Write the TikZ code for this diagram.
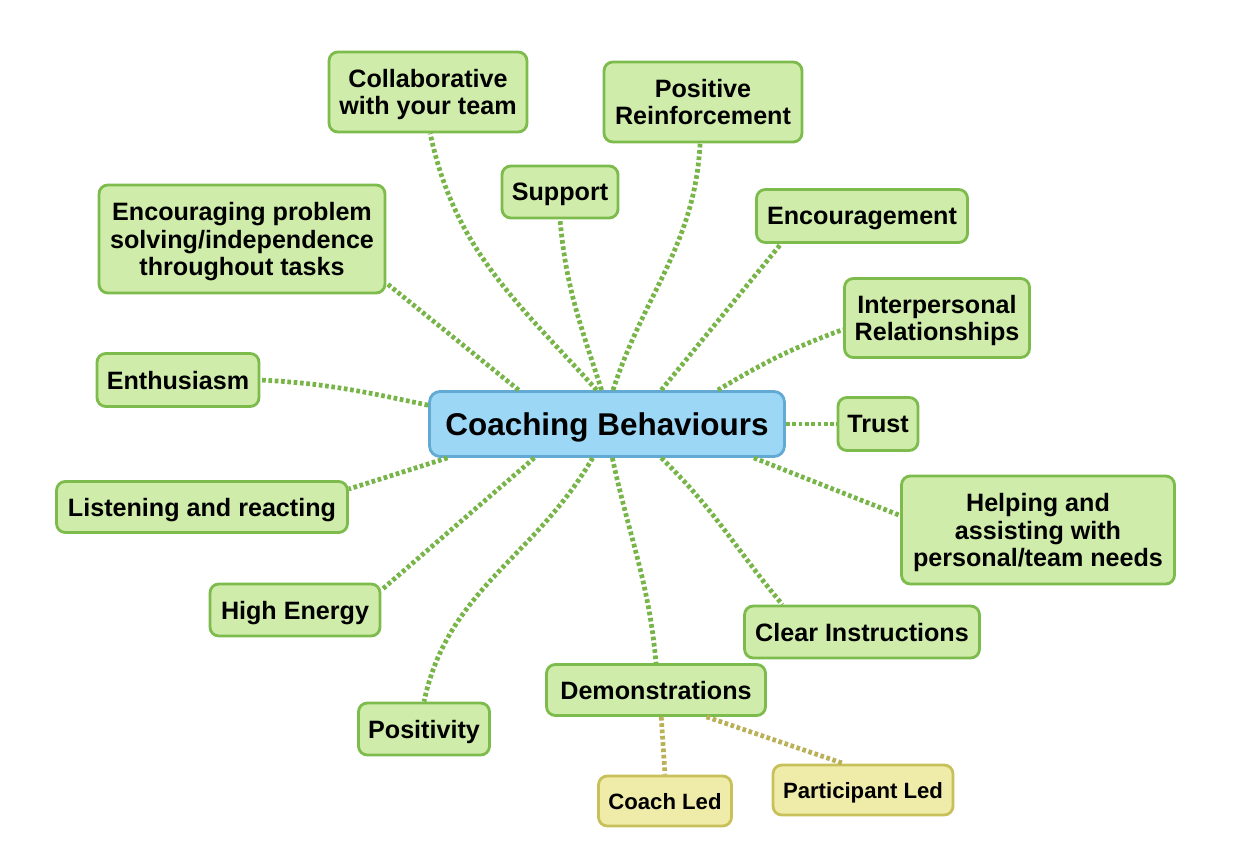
\documentclass[tikz,border=0pt]{standalone}
\usepackage{fontspec}
\setmainfont{Liberation Sans}
\definecolor{leaffill}{HTML}{CFECAA}
\definecolor{leafline}{HTML}{7DBB4C}
\definecolor{hubfill}{HTML}{9DD7F6}
\definecolor{hubline}{HTML}{62A9D3}
\definecolor{subfill}{HTML}{EFEBA8}
\definecolor{subline}{HTML}{C8C05A}
\definecolor{linkgreen}{HTML}{78B548}
\definecolor{linkolive}{HTML}{BAB058}
\tikzset{
  leaf/.style={draw=leafline, fill=leaffill, line width=1.6pt, rounded corners=5pt,
    align=center, font=\fontsize{14.3}{15.8}\selectfont\bfseries, inner sep=2pt,
    text depth=0pt},
  hubbox/.style={draw=hubline, fill=hubfill, line width=1.6pt, rounded corners=6pt,
    align=center, font=\fontsize{17.9}{20}\selectfont\bfseries, text depth=0pt,
    minimum width=7.1cm, minimum height=1.3cm},
  subleaf/.style={draw=subline, fill=subfill, line width=1.6pt, rounded corners=5pt,
    align=center, font=\fontsize{12.6}{14}\selectfont\bfseries, text depth=0pt,
    minimum height=1.0cm},
  link/.style={draw=linkgreen, line width=2.7pt, dash pattern=on 2.1pt off 1.5pt},
  sublink/.style={draw=linkolive, line width=2.7pt, dash pattern=on 2.1pt off 1.5pt}
}
\begin{document}
\begin{tikzpicture}[x=0.02cm, y=-0.02cm]
\useasboundingbox (0,0) rectangle (1240,854);

% centre
\node[hubbox] (hub) at (607,424) {Coaching Behaviours};

% branches
\node[leaf, minimum width=3.96cm, minimum height=1.6cm] (collab) at (428,92) {Collaborative\\with your team};
\node[leaf, minimum width=3.96cm, minimum height=1.6cm] (posreinf) at (703,102) {Positive\\Reinforcement};
\node[leaf, minimum width=2.32cm, minimum height=1.04cm] (support) at (560,192) {Support};
\node[leaf, minimum width=4.22cm, minimum height=1.06cm] (encour) at (862,216) {Encouragement};
\node[leaf, minimum width=5.72cm, minimum height=2.16cm] (encprob) at (242,239) {Encouraging problem\\solving/independence\\throughout tasks};
\node[leaf, minimum width=3.7cm, minimum height=1.58cm] (interp) at (937,318) {Interpersonal\\Relationships};
\node[leaf, minimum width=3.24cm, minimum height=1.06cm] (enthus) at (178,380) {Enthusiasm};
\node[leaf, minimum width=1.6cm, minimum height=1.06cm] (trust) at (878,424) {Trust};
\node[leaf, minimum width=5.82cm, minimum height=1.02cm] (listen) at (202,507) {Listening and reacting};
\node[leaf, minimum width=5.46cm, minimum height=2.16cm] (helping) at (1038,530) {Helping and\\assisting with\\personal/team needs};
\node[leaf, minimum width=3.4cm, minimum height=1.04cm] (highen) at (295,610) {High Energy};
\node[leaf, minimum width=4.7cm, minimum height=1.04cm] (clear) at (862,632) {Clear Instructions};
\node[leaf, minimum width=4.38cm, minimum height=1.02cm] (demo) at (656,690) {Demonstrations};
\node[leaf, minimum width=2.62cm, minimum height=1.04cm] (positiv) at (424,729) {Positivity};

% demonstrations
\node[subleaf, minimum width=2.66cm] (coachled) at (665,801) {Coach Led};
\node[subleaf, minimum width=3.6cm] (partled) at (863,790) {Participant Led};

\begin{scope}[on background layer/.try]
\draw[link] (hub.159) -- (encprob.-17);
\draw[link] (hub.107) to[out=132,in=-78] (collab.-87);
\draw[link] (hub.99) to[out=108,in=-85] (support.south);
\draw[link] (hub.80) to[out=72,in=-93] (posreinf.-94);
\draw[link] (hub.32) -- (encour.-161);
\draw[link] (hub.17) to[out=31,in=-160] (interp.-173);
\draw[link] (hub.east) -- (trust.west);
\draw[link] (hub.-13) -- (helping.174);
\draw[link] (hub.-32) to[out=-44,in=130] (clear.161);
\draw[link] (hub.-81) to[out=-78,in=95] (demo.north);
\draw[link] (hub.-113) to[out=-120,in=78] (positiv.north);
\draw[link] (hub.-155) -- (highen.13);
\draw[link] (hub.-168) -- (listen.7);
\draw[link] (hub.174) to[out=168,in=-3] (enthus.east);
\draw[sublink] (demo.-79) -- (coachled.north);
\draw[sublink] (demo.-28) -- (partled.126);
\end{scope}
\end{tikzpicture}
\end{document}
